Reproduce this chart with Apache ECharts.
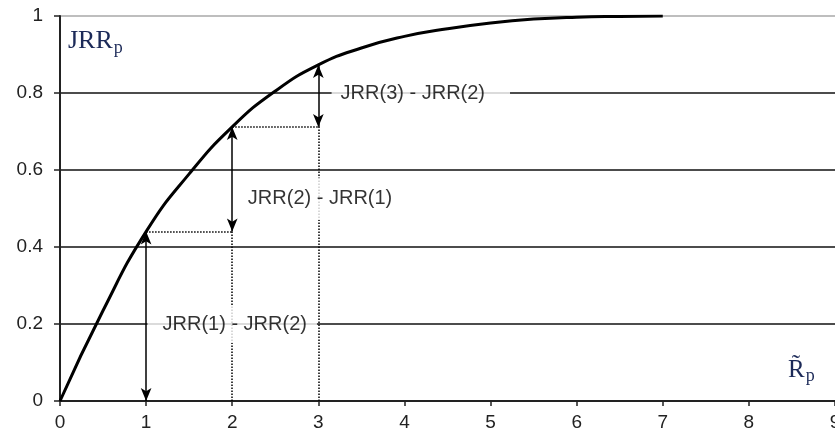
<!DOCTYPE html>
<html>
<head>
<meta charset="utf-8">
<script src="https://cdn.jsdelivr.net/npm/echarts@6/dist/echarts.min.js"></script>
<style>
  html, body { margin: 0; padding: 0; background: #fff; }
  #chart { width: 835px; height: 446px; }
</style>
</head>
<body>
<div id="chart"></div>
<script>
// JRR_p as a function of R~_p
const rValues   = [0, 0.5, 1, 1.5, 2, 2.5, 3, 3.5, 4, 4.5, 5, 5.5, 6, 6.5, 7];
const jrrValues = [0, 0.235, 0.44, 0.59, 0.712, 0.805, 0.873, 0.917, 0.947, 0.967, 0.982, 0.992, 0.997, 0.999, 1.0];

// the steps that get arrows
const stepPoints = [1, 2, 3];

// difference labels (data coords of the label centre)
const diffTexts = ['JRR(1) - JRR(2)', 'JRR(2) - JRR(1)', 'JRR(3) - JRR(2)'];
const diffX     = [2.0, 3.02, 4.19];
const diffY     = [0.2, 0.525, 0.8];

const xTickValues = [0, 1, 2, 3, 4, 5, 6, 7, 8, 9];
const yTickValues = [0, 0.2, 0.4, 0.6, 0.8, 1];

// ---- build the option ----
const curveData = rValues.map((r, i) => [r, jrrValues[i]]);
const jrrAt = r => jrrValues[rValues.indexOf(r)];

// double arrows: JRR(k-1) -> JRR(k)
const arrowLines = stepPoints.map((r, i) => [
    { coord: [r, i === 0 ? 0 : jrrAt(stepPoints[i - 1])] },
    { coord: [r, jrrAt(r)] }
]);

// dotted helper lines
const guideLines = [];
stepPoints.slice(1).forEach((r, i) => {
    const prev = stepPoints[i];
    guideLines.push([{ coord: [prev, jrrAt(prev)] }, { coord: [r, jrrAt(prev)] }]);
    guideLines.push([{ coord: [r, 0] }, { coord: [r, jrrAt(prev)] }]);
});

// white boxes behind the labels (they cut the grid lines)
const labelPadding = [[9, 10, 9, 15], [11, 8, 11, 8], [9, 25, 9, 9]];

const labelData = diffTexts.map((t, i) => ({
    value: [diffX[i], diffY[i]],
    name: t,
    label: { padding: labelPadding[i] }
}));

const sansFont = '"Liberation Sans", Arial, sans-serif';
const serifFont = '"Liberation Serif", "DejaVu Serif", serif';
const nameColor = '#1c2a58';

const chart = echarts.init(document.getElementById('chart'));

chart.setOption({
    animation: false,
    backgroundColor: '#fff',
    grid: { left: 60, right: 0, top: 16, bottom: 45, containLabel: false, outerBoundsMode: 'none' },
    xAxis: {
        type: 'value',
        min: xTickValues[0],
        max: xTickValues[xTickValues.length - 1],
        interval: 1,
        name: '{r|R\u0303}{p|p}',
        nameLocation: 'end',
        nameGap: -47,
        nameTextStyle: {
            align: 'left',
            verticalAlign: 'bottom',
            padding: [0, 0, 17, 0],
            rich: {
                r: { fontFamily: serifFont, fontSize: 25, color: nameColor, lineHeight: 28 },
                p: { fontFamily: serifFont, fontSize: 18, color: nameColor, lineHeight: 28, padding: [12, 0, 0, 1] }
            }
        },
        axisLine: { show: true, lineStyle: { color: '#222', width: 2 } },
        axisTick: { show: true, inside: false, length: 5, lineStyle: { color: '#222', width: 1.5 } },
        axisLabel: { fontFamily: sansFont, fontSize: 19, color: '#222', margin: 12 },
        splitLine: { show: false }
    },
    yAxis: {
        type: 'value',
        min: yTickValues[0],
        max: yTickValues[yTickValues.length - 1],
        interval: 0.2,
        name: '{j|JRR}{p|p}',
        nameLocation: 'end',
        nameGap: -10,
        nameTextStyle: {
            align: 'left',
            verticalAlign: 'top',
            padding: [0, 0, 0, 8],
            rich: {
                j: { fontFamily: serifFont, fontSize: 26, color: nameColor, lineHeight: 30 },
                p: { fontFamily: serifFont, fontSize: 18, color: nameColor, lineHeight: 30, padding: [14, 0, 0, 1] }
            }
        },
        axisLine: { show: true, lineStyle: { color: '#222', width: 2 } },
        axisTick: { show: true, inside: false, length: 6, lineStyle: { color: '#222', width: 1.5 } },
        axisLabel: { fontFamily: sansFont, fontSize: 19, color: '#222', margin: 17 },
        splitLine: {
            show: true,
            lineStyle: { color: ['#111', '#111', '#111', '#111', '#111', '#a8a8a8'], width: 1.5 }
        }
    },
    series: [
        {
            // dotted helper lines
            type: 'line',
            data: [],
            z: 2,
            silent: true,
            markLine: {
                z: 2,
                silent: true,
                symbol: 'none',
                label: { show: false },
                lineStyle: { type: 'dotted', color: '#000', width: 1.5 },
                data: guideLines
            }
        },
        {
            // difference labels
            type: 'scatter',
            data: labelData,
            z: 3,
            symbolSize: 0,
            silent: true,
            label: {
                show: true,
                position: 'inside',
                formatter: p => p.name,
                fontFamily: sansFont,
                fontSize: 20,
                color: '#000',
                backgroundColor: '#fff'
            }
        },
        {
            // double arrows
            type: 'line',
            data: [],
            z: 4,
            silent: true,
            markLine: {
                z: 4,
                silent: true,
                symbol: ['arrow', 'arrow'],
                symbolSize: [8, 13],
                label: { show: false },
                lineStyle: { type: 'solid', color: '#000', width: 1.5 },
                data: arrowLines
            }
        },
        {
            // JRR curve
            type: 'line',
            data: curveData,
            z: 5,
            smooth: true,
            showSymbol: false,
            lineStyle: { color: '#000', width: 3 }
        }
    ]
});
</script>
</body>
</html>
